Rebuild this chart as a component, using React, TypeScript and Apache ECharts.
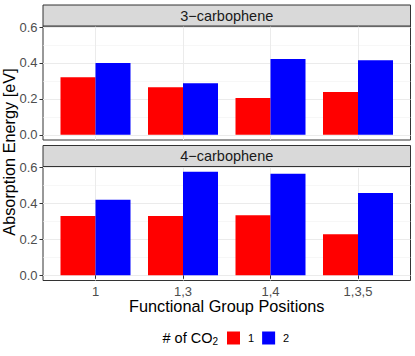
import React, { useEffect, useRef } from "react";
import * as echarts from "echarts";

const categories = ["1", "1,3", "1,4", "1,3,5"];
const panelTitles = ["3−carbophene", "4−carbophene"];
const seriesNames = ["1", "2"];
// values per panel: [1 CO2, 2 CO2]
const carb3_one = [0.32, 0.265, 0.205, 0.239];
const carb3_two = [0.4, 0.287, 0.422, 0.415];
const carb4_one = [0.33, 0.33, 0.334, 0.229];
const carb4_two = [0.421, 0.577, 0.566, 0.458];
const yMajor = [0, 0.2, 0.4, 0.6];
const yMinor = [0.1, 0.3, 0.5];
const xTicks = [1, 2, 3, 4];

const FONT = "'Liberation Sans', Arial, Helvetica, sans-serif";
const colors = ["#FF0000", "#0000FF"];

export default function App() {
  const ref = useRef<HTMLDivElement>(null);
  useEffect(() => {
    if (!ref.current) return;
    const chart = echarts.init(ref.current, undefined, { renderer: "svg" });
    const panelData = [
      [carb3_one, carb3_two],
      [carb4_one, carb4_two],
    ];
    const gridLeft = 43;
    const gridWidth = 367.5;
    const gridTops = [26, 166.5];
    const gridHeight = 114;
    const stripH = 21;

    const grids = gridTops.map((t) => ({
      left: gridLeft,
      top: t,
      width: gridWidth,
      height: gridHeight,
      show: true,
      backgroundColor: "#fff",
      borderColor: "#333333",
      borderWidth: 1,
    }));

    const xAxes = [0, 1].map((gi) => ({
      type: "value",
      gridIndex: gi,
      min: 0.4,
      max: 4.6,
      axisLine: { show: false },
      axisTick: {
        show: gi === 1,
        customValues: xTicks,
        length: 3.5,
        lineStyle: { color: "#333333" },
      },
      axisLabel: {
        show: gi === 1,
        customValues: xTicks,
        formatter: (v: number) => categories[Math.round(v) - 1] ?? "",
        color: "#4D4D4D",
        fontSize: 13,
        fontFamily: FONT,
        margin: 4,
      },
      splitLine: { show: true, lineStyle: { color: "#EBEBEB", width: 1 } },
      name: gi === 1 ? "Functional Group Positions" : "",
      nameLocation: "middle",
      nameGap: 17,
      nameTextStyle: { fontSize: 16.3, color: "#000", fontFamily: FONT },
    }));

    const yAxes: any[] = [];
    [0, 1].forEach((gi) => {
      yAxes.push({
        type: "value",
        gridIndex: gi,
        min: -0.0289,
        max: 0.6059,
        position: "left",
        axisLine: { show: false },
        axisTick: {
          show: true,
          customValues: yMajor,
          length: 3.5,
          lineStyle: { color: "#333333" },
        },
        axisLabel: {
          customValues: yMajor,
          formatter: (v: number) => v.toFixed(1),
          color: "#4D4D4D",
          fontSize: 13,
          fontFamily: FONT,
          margin: 5.5,
        },
        splitLine: { show: true, lineStyle: { color: "#EBEBEB", width: 1 } },
      });
      yAxes.push({
        type: "value",
        gridIndex: gi,
        min: -0.0289,
        max: 0.6059,
        position: "left",
        axisLine: { show: false },
        axisTick: { show: false, customValues: yMinor },
        axisLabel: { show: false },
        splitLine: { show: true, lineStyle: { color: "#F2F2F2", width: 0.6 } },
      });
    });

    const series: any[] = [];
    panelData.forEach((pd, p) => {
      pd.forEach((vals, s) => {
        series.push({
          type: "bar",
          name: seriesNames[s],
          xAxisIndex: p,
          yAxisIndex: p * 2,
          barWidth: "40%",
          barGap: "0%",
          itemStyle: { color: colors[s] },
          data: vals.map((v, i) => [xTicks[i], v]),
        });
      });
    });

    const graphics: any[] = [];
    gridTops.forEach((t, i) => {
      graphics.push({
        type: "rect",
        shape: { x: gridLeft, y: t - stripH, width: gridWidth, height: stripH },
        style: { fill: "#D9D9D9", stroke: "#333333", lineWidth: 1 },
        z: 10,
      });
      graphics.push({
        type: "text",
        x: gridLeft + gridWidth / 2,
        y: t - stripH / 2,
        style: {
          text: panelTitles[i],
          fontSize: 14.5,
          fontFamily: FONT,
          fill: "#1A1A1A",
          align: "center",
          verticalAlign: "middle",
        },
        z: 11,
      });
    });
    graphics.push({
      type: "text",
      x: 9,
      y: 152,
      rotation: Math.PI / 2,
      style: {
        text: "Absorption Energy [eV]",
        fontSize: 16.3,
        fontFamily: FONT,
        fill: "#000",
        align: "center",
        verticalAlign: "middle",
      },
    });
    graphics.push({
      type: "text",
      x: 162.5,
      y: 338,
      style: {
        text: "{a|# of CO}{s|2}",
        fontFamily: FONT,
        fill: "#000",
        align: "left",
        verticalAlign: "middle",
        rich: {
          a: { fontSize: 14.5, lineHeight: 17, fontFamily: FONT, fill: "#000" },
          s: { fontSize: 10, lineHeight: 10, verticalAlign: "bottom", fontFamily: FONT, fill: "#000" },
        },
      },
    });

    chart.setOption({
      animation: false,
      textStyle: { fontFamily: FONT },
      grid: grids,
      xAxis: xAxes,
      yAxis: yAxes,
      series,
      legend: {
        data: seriesNames,
        left: 227,
        top: 331.5,
        padding: 0,
        icon: "rect",
        itemWidth: 13,
        itemHeight: 13,
        itemGap: 8,
        textStyle: { fontSize: 11, color: "#000", fontFamily: FONT, padding: [0, 0, 0, 3] },
      },
      graphic: graphics,
    });
    return () => chart.dispose();
  }, []);
  return (
    <div
      ref={ref}
      style={{ position: "absolute", left: 0, top: 0, width: 415, height: 356 }}
    />
  );
}
